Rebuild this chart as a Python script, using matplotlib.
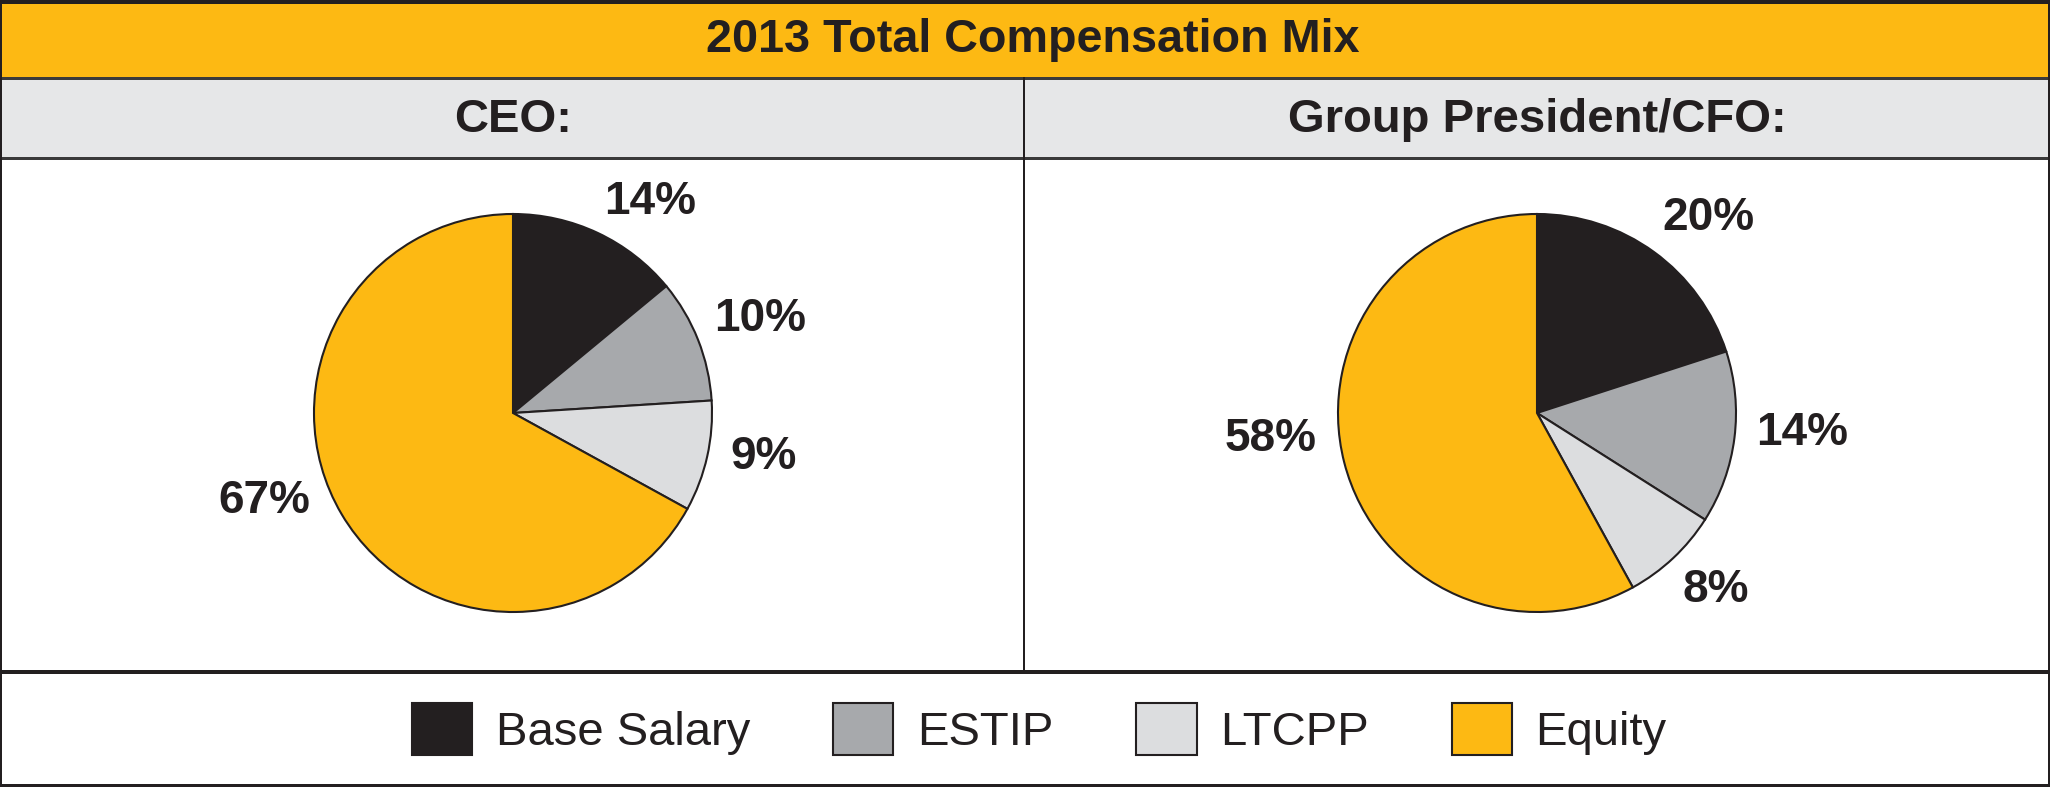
import matplotlib
matplotlib.use("Agg")
import matplotlib.pyplot as plt
from matplotlib.patches import Rectangle

plt.rcParams['font.family'] = ['Liberation Sans', 'DejaVu Sans']

# data
title = "2013 Total Compensation Mix"
panel_titles = ["CEO:", "Group President/CFO:"]
components = ["Base Salary", "ESTIP", "LTCPP", "Equity"]
ceo_mix = [14, 10, 9, 67]
cfo_mix = [20, 14, 8, 58]
colors = ["#231f20", "#a7a9ac", "#dcdddf", "#fdb913"]

# where the percent labels sit, in pie radii from the centre
ceo_label_pos = [(0.69, 1.06), (1.24, 0.47), (1.26, -0.22), (-1.25, -0.44)]
cfo_label_pos = [(0.86, 0.98), (1.33, -0.10), (0.90, -0.89), (-1.34, -0.13)]

W, H = 2050, 787
ink = "#231f20"

fig = plt.figure(figsize=(W / 100, H / 100), dpi=100)
fig.patch.set_facecolor("white")

# background frame drawn in pixel coords
bg = fig.add_axes([0, 0, 1, 1], zorder=-1)
bg.set_xlim(0, W)
bg.set_ylim(H, 0)
bg.axis("off")

bg.add_patch(Rectangle((0, 0), W, 78, color="#fdb913", lw=0))
bg.add_patch(Rectangle((0, 78), W, 80, color="#e6e7e8", lw=0))

def px(n):
    return n * 0.72

bg.plot([0, W], [2, 2], color=ink, lw=px(4))
bg.plot([0, W], [78, 78], color="#3a3a3a", lw=px(3))
bg.plot([0, W], [158, 158], color="#3a3a3a", lw=px(3))
bg.plot([1024, 1024], [78, 672], color=ink, lw=px(2))
bg.plot([0, W], [672, 672], color=ink, lw=px(4))
bg.plot([0, W], [785, 785], color=ink, lw=px(3))
bg.plot([1, 1], [0, H], color=ink, lw=px(2))
bg.plot([W - 1, W - 1], [0, H], color=ink, lw=px(2))

bg.text(W / 2 + 8, 40, title, ha="center", va="center", fontsize=33.7,
        fontweight="bold", color=ink)
bg.text(513, 120, panel_titles[0], ha="center", va="center", fontsize=34,
        fontweight="bold", color=ink)
bg.text(1537, 120, panel_titles[1], ha="center", va="center", fontsize=34,
        fontweight="bold", color=ink)

# pies
S = 600
r = 199
lim = S / (2 * r)
wedges = None
for cx, vals, lpos in [(513, ceo_mix, ceo_label_pos), (1537, cfo_mix, cfo_label_pos)]:
    ax = fig.add_axes([(cx - S / 2) / W, (H - 413 - S / 2) / H, S / W, S / H])
    w, t, a = ax.pie(vals, colors=colors, startangle=90, counterclock=False,
                     autopct="%.0f%%", pctdistance=1.3,
                     wedgeprops=dict(edgecolor=ink, linewidth=1.5),
                     textprops=dict(fontsize=33, fontweight="bold", color=ink))
    for txt, pos in zip(a, lpos):
        txt.set_position(pos)
    ax.set_xlim(-lim, lim)
    ax.set_ylim(-lim, lim)
    ax.set_aspect("equal")
    if wedges is None:
        wedges = w

leg = fig.legend(wedges, components, loc="center",
                 bbox_to_anchor=(0.507, 1 - 729 / H), ncol=4, frameon=False,
                 fontsize=34, handlelength=1.28, handleheight=1.32,
                 handletextpad=0.5, columnspacing=1.75, borderpad=0)
for t in leg.get_texts():
    t.set_color(ink)

fig.savefig("out.png", dpi=100)
